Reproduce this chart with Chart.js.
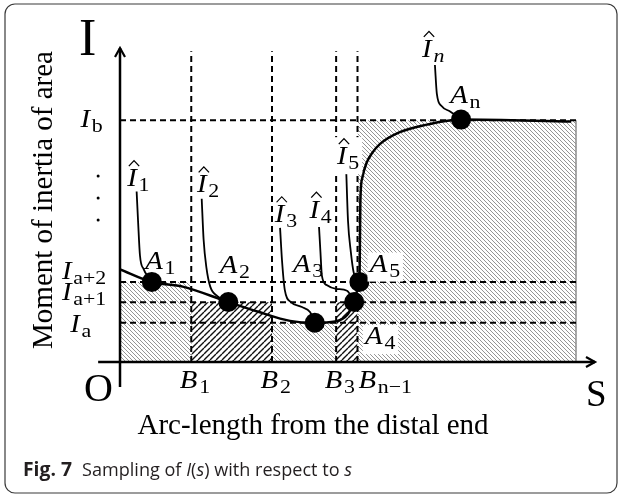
<!DOCTYPE html>
<html>
<head>
<meta charset="utf-8">
<script src="https://cdn.jsdelivr.net/npm/chart.js@4/dist/chart.umd.min.js"></script>
<style>
html, body { margin: 0; padding: 0; background: #fff; }
#wrap { width: 622px; height: 495px; }
</style>
</head>
<body>
<div id="wrap"><canvas id="fig" width="622" height="495"></canvas></div>
<script>
// sample boundaries along s
const bSubs = ['1', '2', '3', 'n\u22121'];
const bValues = [1.5, 3.2, 4.55, 5.0];
const sEnd = 9.6;       // right end of the last block
const dashTop = 9.9;    // top of the vertical dashed lines

// levels of I
const levelSubs = ['a', 'a+1', 'a+2', 'b'];
const levelValues = [1.25, 1.9, 2.55, 7.7];

// hatched blocks (start, end, height, dense hatch or not)
const blockStart = [0, 1.5, 3.2, 4.55, 5.0];
const blockEnd = [1.5, 3.2, 4.55, 5.0, 9.6];
const blockLevel = [2.55, 1.9, 1.25, 1.9, 7.7];
const blockDense = [false, true, false, true, false];

// I(s) curve
const curveS = [0, 0.67, 1.32, 2.28, 2.91, 3.58, 4.1, 4.53, 4.8, 4.93, 5.0, 5.04, 5.05, 5.06, 5.1, 5.19, 5.31, 5.47, 5.89, 6.46, 7.18, 9.5];
const curveI = [2.95, 2.55, 2.4, 1.91, 1.6, 1.31, 1.25, 1.29, 1.53, 1.91, 2.29, 2.55, 3.6, 5.1, 5.86, 6.34, 6.66, 6.94, 7.32, 7.56, 7.72, 7.66];

// sampled points A1..An
const sampleSubs = ['1', '2', '3', '4', '5', 'n'];
const sampleS = [0.67, 2.28, 4.1, 4.93, 5.04, 7.18];
const sampleI = [2.55, 1.91, 1.25, 1.91, 2.55, 7.72];

// leader lines from the Î labels to the points
const leaderSubs = ['1', '2', '3', '4', '5', 'n'];
const leaderS = [
    [0.35, 0.38, 0.42, 0.5, 0.6, 0.67],
    [1.72, 1.76, 1.82, 1.9, 2.05, 2.28],
    [3.37, 3.41, 3.47, 3.6, 3.83, 4.0, 4.1],
    [4.19, 4.22, 4.25, 4.35, 4.55, 4.78, 4.93],
    [4.76, 4.8, 4.86, 4.92, 5.04],
    [6.63, 6.67, 6.77, 6.95, 7.18]
];
const leaderI = [
    [5.43, 4.5, 3.4, 2.95, 2.7, 2.55],
    [5.2, 3.9, 3.0, 2.4, 2.1, 1.91],
    [4.27, 3.25, 2.29, 1.91, 1.75, 1.59, 1.25],
    [4.3, 3.5, 2.75, 2.45, 2.33, 2.27, 1.91],
    [6.2, 4.5, 3.5, 2.85, 2.55],
    [9.46, 8.55, 8.15, 7.98, 7.72]
];

// label anchors (left edge, baseline) in data units
const hatLabelPos = [[0.15, 5.6], [1.62, 5.4], [3.26, 4.45], [3.99, 4.6], [4.57, 6.3], [6.36, 9.72]];
const sampleLabelPos = [[0.53, 2.95], [2.1, 2.82], [3.64, 2.88], [5.16, 0.57], [5.26, 2.88], [6.95, 8.24]];
const levelLabelPos = [[-1.05, 0.97], [-1.22, 1.97], [-1.22, 2.64], [-0.83, 7.5]];
const bLabelY = -0.83;

const SERIF = '"Liberation Serif", "Times New Roman", serif';
const SANS = '"Open Sans", "Noto Sans", sans-serif';

function makeHatch(size, color, width, rising) {
    const c = document.createElement('canvas');
    c.width = size; c.height = size;
    const g = c.getContext('2d');
    g.fillStyle = '#fff';
    g.fillRect(0, 0, size, size);
    g.strokeStyle = color;
    g.lineWidth = width;
    g.beginPath();
    for (let k = -1; k <= 1; k++) {
        if (rising) { g.moveTo(k * size, size); g.lineTo(k * size + size, 0); }
        else { g.moveTo(k * size, 0); g.lineTo(k * size + size, size); }
    }
    g.stroke();
    return g.createPattern(c, 'repeat');
}

const lightHatch = makeHatch(4, '#959595', 1, false);
const denseHatch = makeHatch(6, '#111', 1.4, true);

const datasets = [];

// sample points (on top)
datasets.push({
    data: sampleS.map((s, i) => ({ x: s, y: sampleI[i] })),
    showLine: false, pointRadius: 10, pointBackgroundColor: '#000',
    pointBorderWidth: 0, order: 1
});

// leaders
leaderS.forEach((arr, k) => {
    datasets.push({
        data: arr.map((s, i) => ({ x: s, y: leaderI[k][i] })),
        borderColor: '#000', borderWidth: 1.8, pointRadius: 0,
        cubicInterpolationMode: 'monotone', order: 2
    });
});

// curve
datasets.push({
    data: curveS.map((s, i) => ({ x: s, y: curveI[i] })),
    borderColor: '#000', borderWidth: 2.5, pointRadius: 0,
    cubicInterpolationMode: 'monotone', order: 2
});

// dashed guides
levelValues.forEach(v => {
    datasets.push({
        data: [{ x: 0, y: v }, { x: sEnd, y: v }],
        borderColor: '#000', borderWidth: 2, borderDash: [6, 4],
        pointRadius: 0, tension: 0, order: 3
    });
});
bValues.forEach(v => {
    datasets.push({
        data: [{ x: v, y: 0 }, { x: v, y: dashTop }],
        borderColor: '#000', borderWidth: 2, borderDash: [6, 4],
        pointRadius: 0, tension: 0, order: 3
    });
});

// right edge of last block
datasets.push({
    data: [{ x: sEnd, y: 0 }, { x: sEnd, y: blockLevel[blockLevel.length - 1] }],
    borderColor: '#8c8c8c', borderWidth: 1.5, pointRadius: 0, tension: 0, order: 4
});

// hatched blocks
blockStart.forEach((s0, i) => {
    datasets.push({
        data: [{ x: s0, y: blockLevel[i] }, { x: blockEnd[i], y: blockLevel[i] }],
        borderWidth: 0, borderColor: 'rgba(0,0,0,0)', pointRadius: 0, tension: 0,
        fill: 'origin', backgroundColor: blockDense[i] ? denseHatch : lightHatch,
        order: 5
    });
});

// math-like label: italic letter + subscript, slightly widened like the LaTeX font
function mathLabel(ctx, x, y, base, sub, opt) {
    opt = opt || {};
    const stretch = 1.15;
    const baseFont = 'italic 25px ' + SERIF;
    const subFont = (opt.subItalic ? 'italic ' : '') + '19px ' + SERIF;
    ctx.font = baseFont;
    const bw = ctx.measureText(base).width;
    ctx.font = subFont;
    const sw = ctx.measureText(sub).width;
    ctx.save();
    ctx.translate(x, y);
    ctx.scale(stretch, 1);
    if (opt.box) {
        const top = opt.hat ? 27 : 19;
        ctx.fillStyle = '#fff';
        ctx.fillRect(-2, -top, bw + sw + 6, top + 10);
    }
    ctx.fillStyle = '#000';
    ctx.textAlign = 'left';
    ctx.textBaseline = 'alphabetic';
    ctx.font = baseFont;
    ctx.fillText(base, 0, 0);
    ctx.font = subFont;
    ctx.fillText(sub, bw + 1.5, 5);
    if (opt.hat) {
        const cx = bw * 0.72;
        ctx.beginPath();
        ctx.moveTo(cx - 4.5, -20);
        ctx.lineTo(cx, -25.5);
        ctx.lineTo(cx + 4.5, -20);
        ctx.lineWidth = 1.1;
        ctx.strokeStyle = '#000';
        ctx.stroke();
    }
    ctx.restore();
}

function fitText(ctx, parts, x, y, targetW) {
    let total = 0;
    parts.forEach(p => { ctx.font = p.font; total += ctx.measureText(p.t).width; });
    ctx.save();
    ctx.translate(x, y);
    ctx.scale(targetW / total, 1);
    let cx = 0;
    parts.forEach(p => {
        ctx.font = p.font;
        ctx.fillText(p.t, cx, 0);
        cx += ctx.measureText(p.t).width;
    });
    ctx.restore();
}

const deco = {
    id: 'deco',
    beforeDraw(chart) {
        const ctx = chart.ctx;
        ctx.save();
        ctx.fillStyle = '#fff';
        ctx.fillRect(0, 0, chart.width, chart.height);
        ctx.restore();
    },
    afterDatasetsDraw(chart) {
        const ctx = chart.ctx;
        const xs = chart.scales.x, ys = chart.scales.y;
        const px = v => xs.getPixelForValue(v);
        const py = v => ys.getPixelForValue(v);
        ctx.save();

        // axes with arrow heads
        ctx.strokeStyle = '#000';
        ctx.lineWidth = 2.5;
        ctx.lineCap = 'butt';
        ctx.beginPath();
        ctx.moveTo(px(0), py(-0.8));
        ctx.lineTo(px(0), py(10));
        ctx.moveTo(px(-0.46), py(0));
        ctx.lineTo(px(10), py(0));
        ctx.stroke();
        ctx.lineWidth = 2.2;
        ctx.beginPath();
        ctx.moveTo(px(0) - 5, py(10) + 9);
        ctx.lineTo(px(0), py(10));
        ctx.lineTo(px(0) + 5, py(10) + 9);
        ctx.moveTo(px(10) - 9, py(0) - 5);
        ctx.lineTo(px(10), py(0));
        ctx.lineTo(px(10) - 9, py(0) + 5);
        ctx.stroke();

        // vertical ellipsis on the I axis
        ctx.fillStyle = '#000';
        [5.92, 5.22, 4.52].forEach(v => {
            ctx.beginPath();
            ctx.arc(px(-0.46), py(v), 1.5, 0, Math.PI * 2);
            ctx.fill();
        });

        // level labels
        levelSubs.forEach((s, i) => {
            mathLabel(ctx, px(levelLabelPos[i][0]), py(levelLabelPos[i][1]), 'I', s);
        });
        // B labels
        bSubs.forEach((s, i) => {
            const off = i === 3 ? 0.02 : -0.24;
            mathLabel(ctx, px(bValues[i] + off), py(bLabelY), 'B', s);
        });
        // A labels
        sampleSubs.forEach((s, i) => {
            mathLabel(ctx, px(sampleLabelPos[i][0]), py(sampleLabelPos[i][1]), 'A', s,
                { box: i === 3 || i === 4 });
        });
        // hat labels
        leaderSubs.forEach((s, i) => {
            mathLabel(ctx, px(hatLabelPos[i][0]), py(hatLabelPos[i][1]), 'I', s,
                { hat: true, subItalic: s === 'n', box: i === 4 });
        });

        // big letters
        ctx.fillStyle = '#000';
        ctx.textAlign = 'left';
        ctx.textBaseline = 'alphabetic';
        ctx.font = '52px ' + SERIF;
        ctx.fillText('I', 79, 55);
        ctx.font = '40px ' + SERIF;
        ctx.fillText('O', 84, 401);
        ctx.font = '37px ' + SERIF;
        ctx.fillText('S', 586, 406);

        // axis titles
        ctx.font = '29px ' + SERIF;
        ctx.textAlign = 'center';
        ctx.fillText('Arc-length from the distal end', 313, 434);
        ctx.save();
        ctx.translate(52, 200);
        ctx.rotate(-Math.PI / 2);
        ctx.fillText('Moment of inertia of area', 0, 0);
        ctx.restore();

        // caption
        ctx.textAlign = 'left';
        ctx.fillStyle = '#231f20';
        fitText(ctx, [{ t: 'Fig. 7', font: 'bold 19px ' + SANS }], 23, 476, 49);
        fitText(ctx, [
            { t: 'Sampling of ', font: '19px ' + SANS },
            { t: 'I', font: 'italic 19px ' + SANS },
            { t: '(', font: '19px ' + SANS },
            { t: 's', font: 'italic 19px ' + SANS },
            { t: ') with respect to ', font: '19px ' + SANS },
            { t: 's', font: 'italic 19px ' + SANS }
        ], 82, 476, 270);

        // frame
        ctx.strokeStyle = '#3a3a3a';
        ctx.lineWidth = 1.2;
        ctx.beginPath();
        ctx.roundRect(5, 4, 612, 489, 10);
        ctx.stroke();
        ctx.restore();
    }
};

new Chart(document.getElementById('fig'), {
    type: 'line',
    data: { datasets: datasets },
    options: {
        responsive: false,
        animation: false,
        events: [],
        layout: { padding: { left: 120, top: 48, right: 27, bottom: 133 } },
        scales: {
            x: { type: 'linear', min: 0, max: 10, display: false },
            y: { type: 'linear', min: 0, max: 10, display: false }
        },
        plugins: { legend: { display: false }, tooltip: { enabled: false } }
    },
    plugins: [deco]
});
</script>
</body>
</html>
